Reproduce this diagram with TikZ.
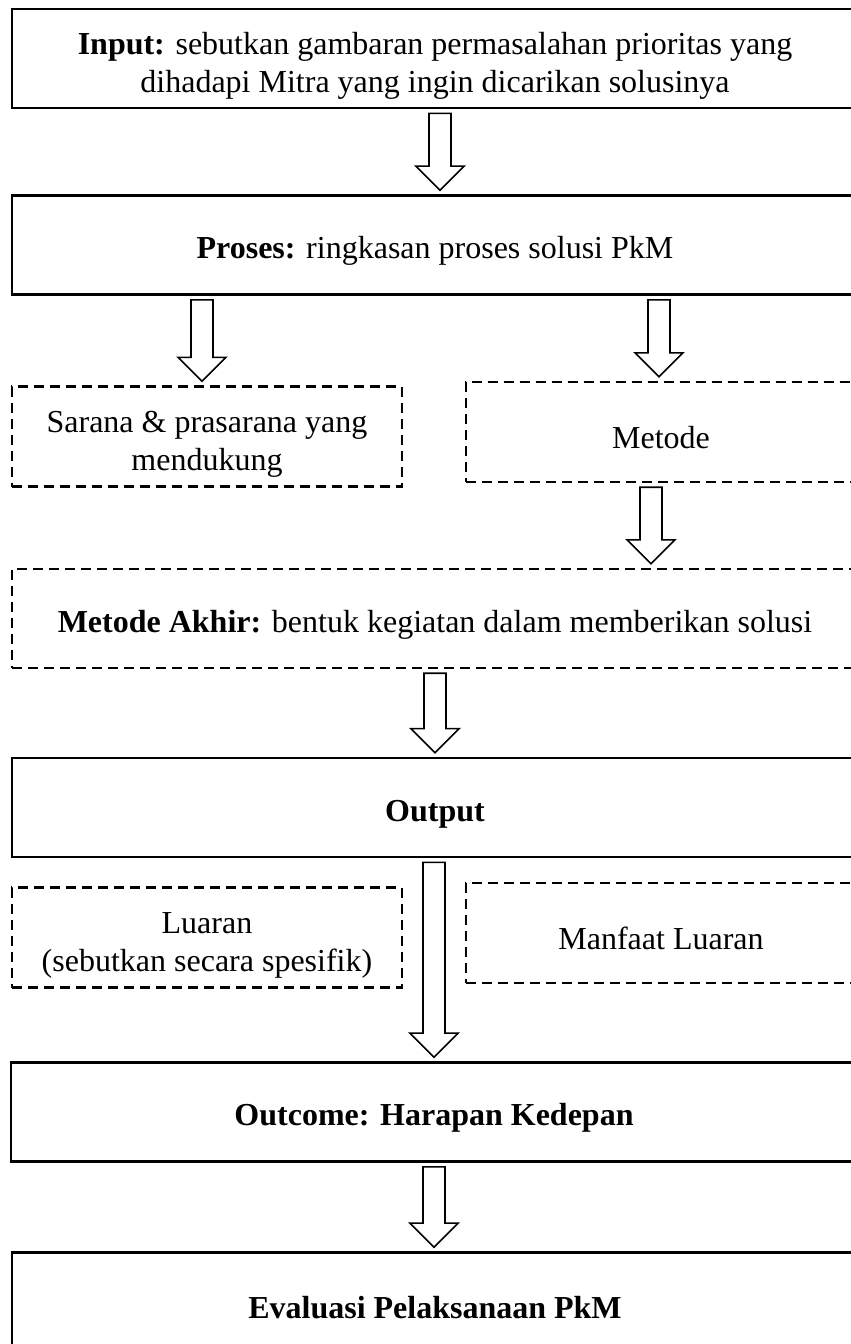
\documentclass[tikz,border=0pt]{standalone}
\usepackage{fontspec}
\setmainfont{Liberation Serif}
\usetikzlibrary{calc}

\begin{document}
\begin{tikzpicture}[x=0.5pt,y=-0.5pt,
    font=\fontsize{16}{19}\selectfont,
    execute at begin node={\rule{0pt}{17pt}},
    box/.style={draw, line width=1.35pt, align=center, inner sep=0pt, minimum width=423pt, minimum height=49.5pt},
    dbox/.style={draw, line width=1.2pt, dash pattern=on 5pt off 3pt, align=center, inner sep=0pt, minimum width=195pt, minimum height=50pt},
    blk/.style={draw, line width=0.8pt, fill=white, to path={let \p1=(\tikztostart), \p2=(\tikztotarget) in
        (\x1-5.5pt,\y1-2pt) -- (\x1-5.5pt,\y2+14pt) -- (\x1-12pt,\y2+14pt) -- (\x1,\y2+2pt)
        -- (\x1+12pt,\y2+14pt) -- (\x1+5.5pt,\y2+14pt) -- (\x1+5.5pt,\y1-2pt) -- cycle}}]

            \useasboundingbox (0,0) rectangle (851,1344);

            \node[box] (inp) at (435,58.5) {\rule{0pt}{18pt}\textbf{Input:} sebutkan gambaran permasalahan prioritas yang\\ dihadapi Mitra yang ingin dicarikan solusinya};
            \node[box] (pro) at (435,245) {\textbf{Proses:} ringkasan proses solusi PkM};

            \node[dbox] (sar) at (207,436.5) {\rule{0pt}{18pt}Sarana \& prasarana yang\\ mendukung};
            \node[dbox] (met) at (661,432) {Metode};

            \node[box, dash pattern=on 5pt off 3pt, line width=1.2pt] (akh) at (435,618.5) {\textbf{Metode Akhir:} bentuk kegiatan dalam memberikan solusi};
            \node[box] (out) at (435,807.5) {\textbf{Output}};

            \node[dbox] (lua) at (207,937.5) {\rule{0pt}{18pt}Luaran\\ (sebutkan secara spesifik)};
            \node[dbox] (man) at (661,933) {Manfaat Luaran};

            \node[box] (otc) at (434,1112) {\textbf{Outcome: Harapan Kedepan}};
            \node[box] (eva) at (435,1302) {\textbf{Evaluasi Pelaksanaan PkM}};

            \draw[blk] (440,0 |- inp.south) to (440,0 |- pro.north);
            \draw[blk] (202,0 |- pro.south) to (202,0 |- sar.north);
            \draw[blk] (659,0 |- pro.south) to (659,0 |- met.north);
            \draw[blk] (651,0 |- met.south) to (651,0 |- akh.north);
            \draw[blk] (435,0 |- akh.south) to (435,0 |- out.north);
            \draw[blk] (434,0 |- out.south) to (434,0 |- otc.north);
            \draw[blk] (434,0 |- otc.south) to (434,0 |- eva.north);

        \end{tikzpicture}
\end{document}
